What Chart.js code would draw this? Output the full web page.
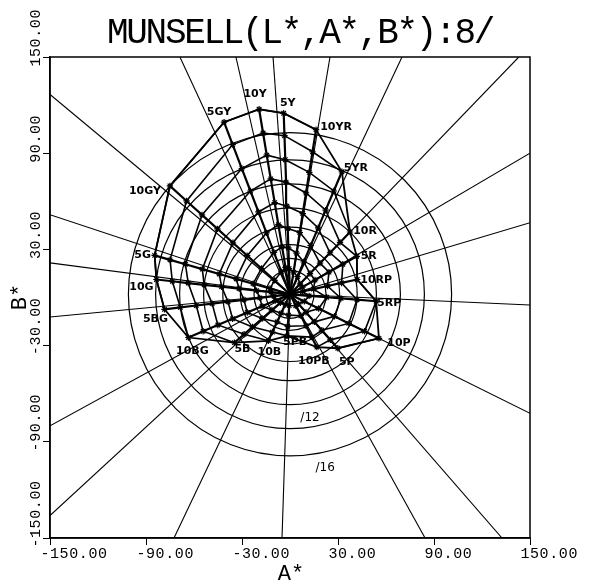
<!DOCTYPE html>
<html>
<head>
<meta charset="utf-8">
<script src="https://cdn.jsdelivr.net/npm/chart.js@4.4.1/dist/chart.umd.min.js"></script>
<style>
  html, body { margin: 0; padding: 0; background: #fff; }
</style>
</head>
<body>
<canvas id="chart" width="589" height="585"></canvas>
<script>
const hueNames = ['5R', '10R', '5YR', '10YR', '5Y', '10Y', '5GY', '10GY', '5G', '10G',
    '5BG', '10BG', '5B', '10B', '5PB', '10PB', '5P', '10P', '5RP', '10RP'];

// direction of each hue locus, degrees counter-clockwise from +A*
const hueAngles = [29.6, 46, 67, 81, 92, 99.5, 111, 138, 164, 173.7,
    186.8, 203, 221, 245, 266, 297, 311.6, 333.7, 355.4, 12.4];

// distance from neutral for /2, /4, /6 ... (last one = max chroma at value 8)
const hueChroma = [
    [9, 18, 28, 38, 48],
    [9, 18, 27, 36, 45, 54],
    [12, 22, 33, 45, 57, 70, 83],
    [14, 26, 39, 51, 64, 77, 90, 104],
    [16, 29, 41, 55, 70, 84, 99, 113],
    [17, 30, 44, 58, 73, 88, 102, 117],
    [15, 28, 41, 55, 69, 84, 100, 115],
    [13, 24, 36, 48, 61, 74, 87, 101],
    [13, 24, 35, 46, 57, 68, 78, 88],
    [12, 21, 32, 43, 54, 64, 74, 84],
    [10, 19, 29, 39, 49, 59, 69, 79],
    [10, 19, 29, 39, 49, 59, 69],
    [8, 15, 23, 31, 38, 46],
    [7, 13, 19, 26, 32],
    [7, 13, 20, 26],
    [8, 15, 22, 30, 37],
    [8, 15, 23, 30, 38, 45],
    [10, 20, 31, 41, 52, 62],
    [12, 23, 32, 42, 54],
    [8, 15, 24, 33, 43],
];

const neutral = [0, 2];

// where each hue's straight guide line meets the frame (A*, B*)
const guideEnds = [
    [150, 90], [143, 150], [70, 150], [25, 150], [-10.6, 150], [-33.8, 150], [-68.8, 150],
    [-150, 126.6], [-150, 51.6], [-150, 21.6], [-150, -12.2], [-150, -80], [-150, -136],
    [-72.5, -150], [-5, -150], [84.4, -150], [132.5, -150],
    [150, -72.2], [150, -4.7], [150, 46.6],
];

// ideal chroma circles /2 ... /16
const chromaRings = [15, 22.5, 31, 42, 54, 69, 84, 101];
const ringTags = ['/12', '/16'];
const ringTagAt = [[12.5, -75], [22, -106]];

const axisTicks = [-150, -90, -30, 30, 90, 150];

// label offsets (px) from each hue's max chroma point
const labelShift = [
    [12, 0], [15, -1], [14, -4], [20, -2], [4, -10], [-4, -15], [-5, -10], [-25, 5],
    [-12, 0], [-15, 8], [-9, 10], [4, 14], [8, 6], [1, 11], [8, 6], [-3, 14],
    [9, 14], [20, 5], [13, 2], [19, 1],
];

const INK = '#000';
const MONO = '"Liberation Mono", "DejaVu Sans Mono", monospace';

function toPoint(deg, r) {
    const t = deg * Math.PI / 180;
    return { x: neutral[0] + r * Math.cos(t), y: neutral[1] + r * Math.sin(t) };
}

const loci = hueAngles.map((deg, i) => hueChroma[i].map((r) => toPoint(deg, r)));
const center = { x: neutral[0], y: neutral[1] };

const datasets = [];

hueNames.forEach((name, i) => {
    datasets.push({
        data: [center, { x: guideEnds[i][0], y: guideEnds[i][1] }],
        showLine: true, borderColor: INK, borderWidth: 1.1, pointRadius: 0,
    });
});

const levels = Math.max(...hueChroma.map((c) => c.length));
for (let k = 0; k < levels; k++) {
    const pts = loci.map((p) => p[k] || { x: null, y: null });
    pts.push(pts[0]);
    datasets.push({
        data: pts, showLine: true, spanGaps: false,
        borderColor: INK, borderWidth: 1.6, pointRadius: 0,
    });
}

const outline = loci.map((p) => p[p.length - 1]);
outline.push(outline[0]);
datasets.push({ data: outline, showLine: true, borderColor: INK, borderWidth: 1.8, pointRadius: 0 });

loci.forEach((p) => {
    datasets.push({
        data: [center, ...p], showLine: true,
        borderColor: INK, backgroundColor: INK, borderWidth: 2.2,
        pointStyle: 'star', pointBorderWidth: 1.2,
        pointRadius: (ctx) => (ctx.dataIndex === 0 ? 0 : 3.2),
    });
});

const overlay = {
    id: 'overlay',
    beforeDatasetsDraw(chart) {
        const { ctx, chartArea: area, scales: { x, y } } = chart;
        const cx = x.getPixelForValue(neutral[0]);
        const cy = y.getPixelForValue(neutral[1]);
        ctx.save();
        ctx.beginPath();
        ctx.rect(area.left, area.top, area.width, area.height);
        ctx.clip();
        ctx.strokeStyle = INK;
        ctx.lineWidth = 1.2;
        chromaRings.forEach((r) => {
            const rp = x.getPixelForValue(neutral[0] + r) - cx;
            ctx.beginPath();
            ctx.arc(cx, cy, rp, 0, Math.PI * 2);
            ctx.stroke();
        });
        ctx.restore();
    },
    afterDraw(chart) {
        const { ctx, chartArea: area, scales: { x, y } } = chart;
        ctx.save();
        ctx.strokeStyle = INK;
        ctx.lineWidth = 1.5;
        ctx.strokeRect(area.left, area.top, area.right - area.left, area.bottom - area.top);

        ctx.fillStyle = INK;
        ctx.textBaseline = 'middle';

        ctx.font = '36px ' + MONO;
        ctx.letterSpacing = '-2.3px';
        ctx.textAlign = 'center';
        ctx.fillText('MUNSELL(L*,A*,B*):8/', 300, 33);

        ctx.font = '15px ' + MONO;
        ctx.letterSpacing = '0.6px';
        ctx.textAlign = 'left';
        axisTicks.forEach((v) => {
            ctx.fillText(v.toFixed(2), x.getPixelForValue(v) - 9.6, 554);
        });
        axisTicks.forEach((v) => {
            ctx.save();
            ctx.translate(36, y.getPixelForValue(v) + 9.6);
            ctx.rotate(-Math.PI / 2);
            ctx.fillText(v.toFixed(2), 0, 0);
            ctx.restore();
        });

        ctx.font = '22px ' + MONO;
        ctx.letterSpacing = '0px';
        ctx.textAlign = 'center';
        ctx.fillText('A*', 291, 574);
        ctx.save();
        ctx.translate(20, 297);
        ctx.rotate(-Math.PI / 2);
        ctx.fillText('B*', 0, 0);
        ctx.restore();

        ctx.font = 'bold 11px "DejaVu Sans", sans-serif';
        hueNames.forEach((name, i) => {
            const tip = loci[i][loci[i].length - 1];
            ctx.fillText(name, x.getPixelForValue(tip.x) + labelShift[i][0],
                y.getPixelForValue(tip.y) + labelShift[i][1]);
        });

        ctx.font = '12px "DejaVu Sans", sans-serif';
        ringTags.forEach((tag, i) => {
            ctx.fillText(tag, x.getPixelForValue(ringTagAt[i][0]), y.getPixelForValue(ringTagAt[i][1]));
        });
        ctx.restore();
    },
};

const axis = {
    type: 'linear', min: -150, max: 150,
    ticks: { stepSize: 60, display: false },
    grid: { drawOnChartArea: false, color: INK, tickLength: 7, lineWidth: 1 },
    border: { color: INK, width: 1.5 },
};

new Chart(document.getElementById('chart'), {
    type: 'scatter',
    data: { datasets },
    options: {
        responsive: false,
        animation: false,
        events: [],
        layout: { padding: { left: 43, right: 59, top: 57, bottom: 40 } },
        plugins: { legend: { display: false }, tooltip: { enabled: false }, colors: { enabled: false } },
        elements: { line: { tension: 0 } },
        scales: { x: axis, y: axis },
    },
    plugins: [overlay],
});
</script>
</body>
</html>
